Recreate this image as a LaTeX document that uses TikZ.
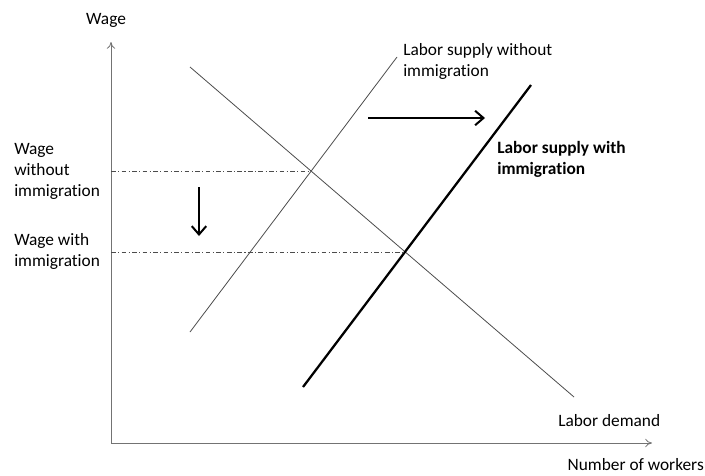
\documentclass[tikz,border=0pt]{standalone}
\usepackage{fontspec}
\setmainfont{Carlito}[Ligatures=NoCommon]
\usepackage{tikz}
\usetikzlibrary{
  arrows.meta,
  positioning,
  calc,
  intersections
}
\tikzset{
  axisline/.style={
    draw=gray!90!black,
    line width=0.6pt,
    -{To[length=1.8mm,width=2.2mm]},
  },
  curveline/.style={
    draw=black!70,
    line width=0.6pt,
  },
  boldcurve/.style={
    draw=black,
    line width=1.7pt,
  },
  guide/.style={
    draw=black!70,
    line width=0.45pt,
    dash pattern=on 3.5pt off 1.8pt on 0.8pt off 1.8pt,
  },
  shiftarr/.style={
    draw=black,
    line width=1.5pt,
    -{Straight Barb[length=2.2mm,width=3.8mm]},
  },
  lbl/.style={
    font=\fontsize{13}{15.75}\selectfont,
    align=left,
    inner sep=0pt,
  },
}

\begin{document}
\begin{tikzpicture}[x=0.75pt, y=-0.75pt]
  \useasboundingbox (0,0) rectangle (705,475);

  % Axes
  \coordinate (origin) at (111,443);
  \coordinate (ytip)   at (111,42);
  \coordinate (xtip)   at (652,443);
  \draw[axisline] (origin) -- (ytip);
  \draw[axisline] (origin) -- (xtip);

  % Demand and the two supply curves
  \coordinate (dtop) at (190,67);
  \coordinate (dbot) at (574,397);
  \coordinate (s0bot) at (190,332);
  \coordinate (s0top) at (397,57);
  \coordinate (s1bot) at (303,387);
  \coordinate (s1top) at (531,85);
  \draw[curveline, name path=demand] (dtop) -- (dbot);
  \draw[curveline, name path=supply0] (s0bot) -- (s0top);
  \draw[boldcurve, name path=supply1] (s1bot) -- (s1top);

  % Equilibria and wage levels
  \path[name intersections={of=demand and supply0, by=eq0}];
  \path[name intersections={of=demand and supply1, by=eq1}];
  \draw[guide] (eq0 -| origin) -- (eq0);
  \draw[guide] (eq1 -| origin) -- (eq1);

  % Shifts
  \coordinate (wfrom) at (199,187);
  \coordinate (wto)   at (199,236);
  \coordinate (sfrom) at (368,118);
  \coordinate (sto)   at (485,118);
  \draw[shiftarr] (wfrom) -- (wto);
  \draw[shiftarr] (sfrom) -- (sto);

  % Labels
  \node[lbl] (wage) at (106,20) {Wage};
  \node[lbl, anchor=west] (wage0) at (14,171) {Wage\\without\\immigration};
  \node[lbl, anchor=west] (wage1) at (14,251.5) {Wage with\\immigration};
  \node[lbl, anchor=west] (sup0) at (403,61) {Labor supply without\\immigration};
  \node[lbl, anchor=west, font=\fontsize{13}{15.75}\selectfont\bfseries] (sup1) at (497,159.5) {Labor supply with\\immigration};
  \node[lbl, anchor=west] (dem) at (558,421) {Labor demand};
  \node[lbl, anchor=east] (workers) at (704,465) {Number of workers};
\end{tikzpicture}
\end{document}
